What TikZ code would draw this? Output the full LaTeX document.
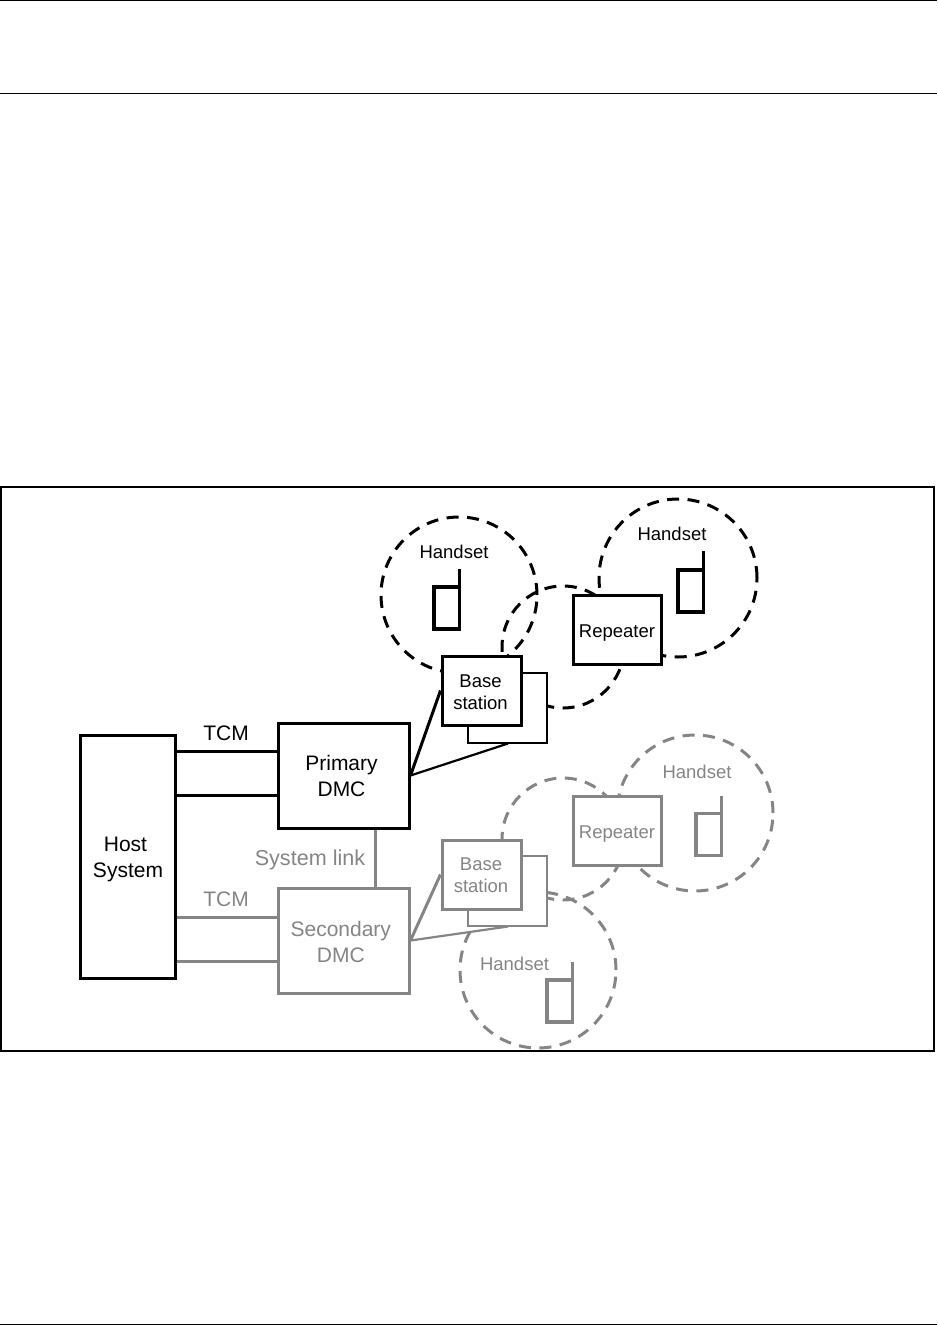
\documentclass[tikz,border=0pt]{standalone}
\usepackage{fontspec}
\setmainfont{Liberation Sans}
\definecolor{gr}{HTML}{858585}
\tikzset{
  zone/.style={circle,draw,line width=3pt,dash pattern=on 12pt off 8.5pt,inner sep=0pt,minimum size=#1},
  boxnode/.style={rectangle,draw,fill=white,line width=3pt,inner sep=0pt,align=center,minimum width=#1},
  small/.style={font=\fontsize{18.5pt}{22pt}\selectfont},
  large/.style={font=\fontsize{21pt}{26pt}\selectfont},
  phone/.style={rectangle,draw,line width=3.2pt,inner sep=0pt,outer sep=0pt,minimum width=25.5pt,minimum height=42pt},
  wire/.style={line width=3pt},
  thinwire/.style={line width=2.2pt},
  lab/.style={inner sep=0pt,align=center}
}
\begin{document}
\begin{tikzpicture}[x=1pt,y=-1pt]
\useasboundingbox (0,0) rectangle (937,1325);
\coordinate (topL) at (0,0.5); \coordinate (topR) at (937,0.5);
\draw[line width=1pt] (topL) -- (topR);
\coordinate (ruleL) at (0,93); \coordinate (ruleR) at (937,93);
\draw[line width=1pt] (ruleL) -- (ruleR);
\coordinate (footL) at (0,1324.5); \coordinate (footR) at (937,1324.5);
\draw[line width=1pt] (footL) -- (footR);
\node[draw,line width=2pt,inner sep=0pt,outer sep=0pt,minimum width=933pt,minimum height=564pt] (frame) at (467.5,769) {};

% zones, black
\node[zone=156pt] (zA) at (459,595) {};
\node[zone=158pt] (zB) at (678,578) {};
\node[zone=122pt] (zC) at (563,647) {};
% zones, grey
\begin{scope}[gr]
\node[zone=156pt] (zD) at (695,813) {};
\node[zone=122pt] (zE) at (563,839) {};
\node[zone=156pt] (zF) at (538,970) {};
\end{scope}

% back boxes
\node[boxnode=79pt,minimum height=70pt,line width=2.2pt] (backA) at (507.5,708) {};
\node[boxnode=79pt,minimum height=70pt,line width=2.2pt,draw=gr] (backB) at (507.5,891) {};

% main boxes
\node[boxnode=95pt,minimum height=243pt] (host) at (128,856.5) {};
\node[lab,large] (hostT) at (128,859.5) {Host\hspace*{5pt}\\System};
\node[boxnode=131pt,minimum height=105pt] (prim) at (343.5,775.5) {};
\node[lab,large] (primT) at (341.5,776) {Primary\\DMC};
\node[boxnode=131pt,minimum height=105pt,draw=gr] (sec) at (343.5,940.5) {};
\node[lab,large,text=gr] (secT) at (340.8,941.5) {Secondary\\DMC};
\node[boxnode=79pt,minimum height=69pt] (baseA) at (481.5,690.5) {};
\node[lab,small] (baseAT) at (480.5,692.5) {Base\\station};
\node[boxnode=79pt,minimum height=69pt,draw=gr] (baseB) at (481.5,874.5) {};
\node[lab,small,text=gr] (baseBT) at (481,875.5) {Base\\station};
\node[boxnode=88pt,minimum height=69pt] (repA) at (617,629.5) {};
\node[lab,small] (repAT) at (617,633.5) {Repeater};
\node[boxnode=88pt,minimum height=69pt,draw=gr] (repB) at (617,830.5) {};
\node[lab,small,text=gr] (repBT) at (617,834.5) {Repeater};

% connectors
\draw[wire] (host.east |- 0,751) -- (prim.west |- 0,751);
\draw[wire] (host.east |- 0,795) -- (prim.west |- 0,795);
\draw[wire,gr] (host.east |- 0,917) -- (sec.west |- 0,917);
\draw[wire,gr] (host.east |- 0,961) -- (sec.west |- 0,961);
\draw[wire,gr] (prim.south -| 375,0) -- (sec.north -| 375,0);

\coordinate (pOut) at (prim.east);
\coordinate (sOut) at (sec.east);
\coordinate (pBack) at (508,743.5);
\coordinate (sBack) at (508,926.5);
\draw[wire] (pOut) -- (baseA.west);
\draw[thinwire] (pOut) -- (pBack);
\draw[wire,gr] (sOut) -- (baseB.west);
\draw[thinwire,gr] (sOut) -- (sBack);

% phones
\node[phone] (ph1) at (446.75,608) {};
\coordinate (an1) at (459.5,569);
\draw[line width=3pt] (ph1.north east) -- (an1);
\node[phone] (ph2) at (690.75,591) {};
\coordinate (an2) at (703.5,551);
\draw[line width=3pt] (ph2.north east) -- (an2);
\node[phone,draw=gr] (ph3) at (708.75,834.5) {};
\coordinate (an3) at (721.5,796);
\draw[line width=3pt,gr] (ph3.north east) -- (an3);
\node[phone,draw=gr] (ph4) at (559.75,1001) {};
\coordinate (an4) at (572.5,962);
\draw[line width=3pt,gr] (ph4.north east) -- (an4);

% labels
\node[lab,small] (l1) at (454,551.5) {Handset};
\node[lab,small] (l2) at (672,534) {Handset};
\node[lab,small,text=gr] (l3) at (697,771.5) {Handset};
\node[lab,small,text=gr] (l4) at (514.5,963.5) {Handset};
\node[lab,large] (t1) at (226,733) {TCM};
\node[lab,large,text=gr] (t2) at (226,899) {TCM};
\node[lab,font=\fontsize{21.6pt}{26pt}\selectfont,text=gr] (t3) at (310,859.5) {System link};
\end{tikzpicture}
\end{document}
